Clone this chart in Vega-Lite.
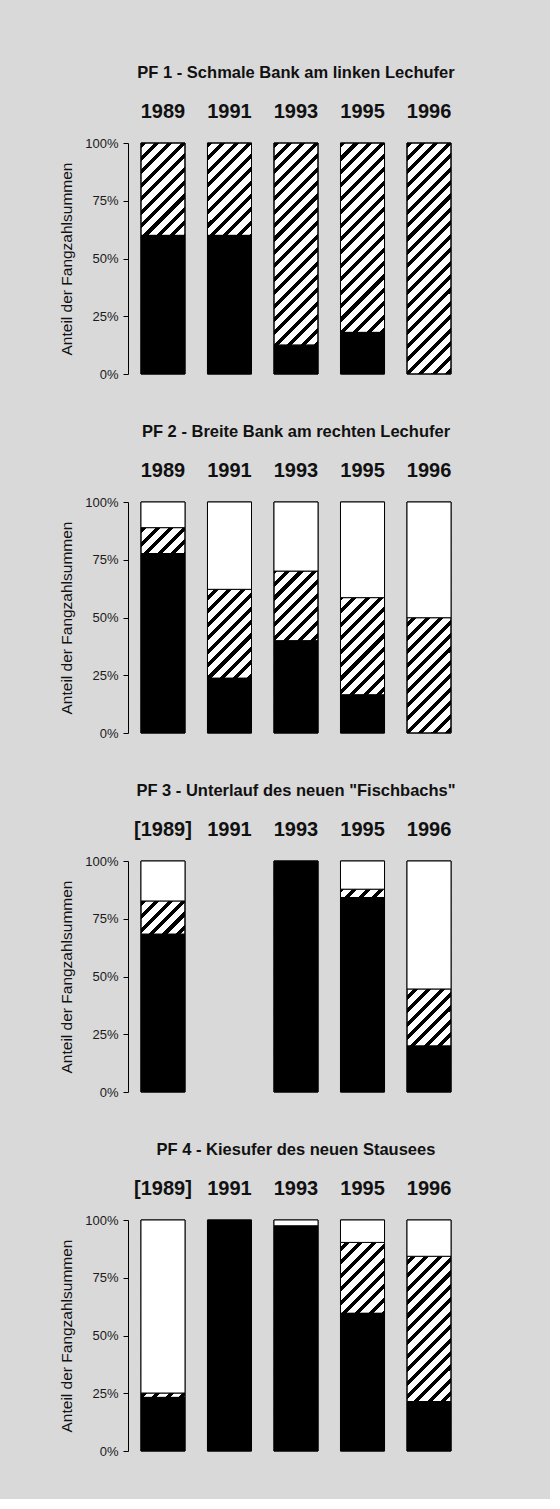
{
  "$schema": "https://vega.github.io/schema/vega-lite/v6.json",
  "background": "#d9d9d9",
  "padding": {"left": 59, "top": 64, "right": 86, "bottom": 41},
  "spacing": 42,
  "config": {
    "view": {"stroke": null},
    "font": "Liberation Sans",
    "bar": {
      "stroke": "black", "strokeWidth": 1,
      "fill": {"gradient": "linear", "x1": 0, "y1": 0, "x2": 0.2188, "y2": 1.1488, "stops": [
        {"offset": 0, "color": "black"}, {"offset": 0.0185, "color": "black"}, {"offset": 0.0185, "color": "white"}, {"offset": 0.0488, "color": "white"},
        {"offset": 0.0488, "color": "black"}, {"offset": 0.0673, "color": "black"}, {"offset": 0.0673, "color": "white"}, {"offset": 0.0976, "color": "white"},
        {"offset": 0.0976, "color": "black"}, {"offset": 0.1161, "color": "black"}, {"offset": 0.1161, "color": "white"}, {"offset": 0.1464, "color": "white"},
        {"offset": 0.1464, "color": "black"}, {"offset": 0.1649, "color": "black"}, {"offset": 0.1649, "color": "white"}, {"offset": 0.1952, "color": "white"},
        {"offset": 0.1952, "color": "black"}, {"offset": 0.2137, "color": "black"}, {"offset": 0.2137, "color": "white"}, {"offset": 0.2440, "color": "white"},
        {"offset": 0.2440, "color": "black"}, {"offset": 0.2625, "color": "black"}, {"offset": 0.2625, "color": "white"}, {"offset": 0.2928, "color": "white"},
        {"offset": 0.2928, "color": "black"}, {"offset": 0.3113, "color": "black"}, {"offset": 0.3113, "color": "white"}, {"offset": 0.3416, "color": "white"},
        {"offset": 0.3416, "color": "black"}, {"offset": 0.3601, "color": "black"}, {"offset": 0.3601, "color": "white"}, {"offset": 0.3904, "color": "white"},
        {"offset": 0.3904, "color": "black"}, {"offset": 0.4089, "color": "black"}, {"offset": 0.4089, "color": "white"}, {"offset": 0.4392, "color": "white"},
        {"offset": 0.4392, "color": "black"}, {"offset": 0.4577, "color": "black"}, {"offset": 0.4577, "color": "white"}, {"offset": 0.4880, "color": "white"},
        {"offset": 0.4880, "color": "black"}, {"offset": 0.5065, "color": "black"}, {"offset": 0.5065, "color": "white"}, {"offset": 0.5368, "color": "white"},
        {"offset": 0.5368, "color": "black"}, {"offset": 0.5553, "color": "black"}, {"offset": 0.5553, "color": "white"}, {"offset": 0.5856, "color": "white"},
        {"offset": 0.5856, "color": "black"}, {"offset": 0.6041, "color": "black"}, {"offset": 0.6041, "color": "white"}, {"offset": 0.6344, "color": "white"},
        {"offset": 0.6344, "color": "black"}, {"offset": 0.6529, "color": "black"}, {"offset": 0.6529, "color": "white"}, {"offset": 0.6832, "color": "white"},
        {"offset": 0.6832, "color": "black"}, {"offset": 0.7017, "color": "black"}, {"offset": 0.7017, "color": "white"}, {"offset": 0.7320, "color": "white"},
        {"offset": 0.7320, "color": "black"}, {"offset": 0.7505, "color": "black"}, {"offset": 0.7505, "color": "white"}, {"offset": 0.7808, "color": "white"},
        {"offset": 0.7808, "color": "black"}, {"offset": 0.7993, "color": "black"}, {"offset": 0.7993, "color": "white"}, {"offset": 0.8296, "color": "white"},
        {"offset": 0.8296, "color": "black"}, {"offset": 0.8481, "color": "black"}, {"offset": 0.8481, "color": "white"}, {"offset": 0.8784, "color": "white"},
        {"offset": 0.8784, "color": "black"}, {"offset": 0.8969, "color": "black"}, {"offset": 0.8969, "color": "white"}, {"offset": 0.9272, "color": "white"},
        {"offset": 0.9272, "color": "black"}, {"offset": 0.9457, "color": "black"}, {"offset": 0.9457, "color": "white"}, {"offset": 0.9760, "color": "white"},
        {"offset": 0.9760, "color": "black"}, {"offset": 0.9945, "color": "black"}, {"offset": 0.9945, "color": "white"}, {"offset": 1, "color": "white"}
      ]}
    },
    "axisY": {
      "domainColor": "black", "tickColor": "black", "tickSize": 5, "grid": false,
      "labelFontSize": 13, "labelColor": "#1a1a1a", "labelPadding": 5,
      "titleFontSize": 15.5, "titleFontWeight": "normal", "titleColor": "#111", "titlePadding": 10
    },
    "axisX": {
      "orient": "top", "domain": false, "ticks": false, "tickSize": 0, "labelAngle": 0,
      "labelFontSize": 20, "labelFontWeight": "bold", "labelColor": "#111", "labelPadding": 22, "title": null
    },
    "title": {"fontSize": 16.5, "fontWeight": "bold", "color": "#111", "anchor": "middle", "offset": 20}
  },
  "datasets": {
    "fang": [
      {"pf": "PF 1", "jahr": "1989", "gruppe": "Gruppe 1", "anteil": 60},
      {"pf": "PF 1", "jahr": "1989", "gruppe": "Gruppe 2", "anteil": 40},
      {"pf": "PF 1", "jahr": "1991", "gruppe": "Gruppe 1", "anteil": 60},
      {"pf": "PF 1", "jahr": "1991", "gruppe": "Gruppe 2", "anteil": 40},
      {"pf": "PF 1", "jahr": "1993", "gruppe": "Gruppe 1", "anteil": 12.5},
      {"pf": "PF 1", "jahr": "1993", "gruppe": "Gruppe 2", "anteil": 87.5},
      {"pf": "PF 1", "jahr": "1995", "gruppe": "Gruppe 1", "anteil": 18},
      {"pf": "PF 1", "jahr": "1995", "gruppe": "Gruppe 2", "anteil": 82},
      {"pf": "PF 1", "jahr": "1996", "gruppe": "Gruppe 2", "anteil": 100},

      {"pf": "PF 2", "jahr": "1989", "gruppe": "Gruppe 1", "anteil": 77.7},
      {"pf": "PF 2", "jahr": "1989", "gruppe": "Gruppe 2", "anteil": 11.2},
      {"pf": "PF 2", "jahr": "1989", "gruppe": "Gruppe 3", "anteil": 11.1},
      {"pf": "PF 2", "jahr": "1991", "gruppe": "Gruppe 1", "anteil": 23.7},
      {"pf": "PF 2", "jahr": "1991", "gruppe": "Gruppe 2", "anteil": 38.5},
      {"pf": "PF 2", "jahr": "1991", "gruppe": "Gruppe 3", "anteil": 37.8},
      {"pf": "PF 2", "jahr": "1993", "gruppe": "Gruppe 1", "anteil": 39.9},
      {"pf": "PF 2", "jahr": "1993", "gruppe": "Gruppe 2", "anteil": 30.2},
      {"pf": "PF 2", "jahr": "1993", "gruppe": "Gruppe 3", "anteil": 29.9},
      {"pf": "PF 2", "jahr": "1995", "gruppe": "Gruppe 1", "anteil": 16.5},
      {"pf": "PF 2", "jahr": "1995", "gruppe": "Gruppe 2", "anteil": 42.1},
      {"pf": "PF 2", "jahr": "1995", "gruppe": "Gruppe 3", "anteil": 41.4},
      {"pf": "PF 2", "jahr": "1996", "gruppe": "Gruppe 2", "anteil": 49.9},
      {"pf": "PF 2", "jahr": "1996", "gruppe": "Gruppe 3", "anteil": 50.1},

      {"pf": "PF 3", "jahr": "1989", "gruppe": "Gruppe 1", "anteil": 68.3},
      {"pf": "PF 3", "jahr": "1989", "gruppe": "Gruppe 2", "anteil": 14.4},
      {"pf": "PF 3", "jahr": "1989", "gruppe": "Gruppe 3", "anteil": 17.3},
      {"pf": "PF 3", "jahr": "1993", "gruppe": "Gruppe 1", "anteil": 100},
      {"pf": "PF 3", "jahr": "1995", "gruppe": "Gruppe 1", "anteil": 84.2},
      {"pf": "PF 3", "jahr": "1995", "gruppe": "Gruppe 2", "anteil": 3.6},
      {"pf": "PF 3", "jahr": "1995", "gruppe": "Gruppe 3", "anteil": 12.2},
      {"pf": "PF 3", "jahr": "1996", "gruppe": "Gruppe 1", "anteil": 19.9},
      {"pf": "PF 3", "jahr": "1996", "gruppe": "Gruppe 2", "anteil": 24.7},
      {"pf": "PF 3", "jahr": "1996", "gruppe": "Gruppe 3", "anteil": 55.4},

      {"pf": "PF 4", "jahr": "1989", "gruppe": "Gruppe 1", "anteil": 23.2},
      {"pf": "PF 4", "jahr": "1989", "gruppe": "Gruppe 2", "anteil": 1.9},
      {"pf": "PF 4", "jahr": "1989", "gruppe": "Gruppe 3", "anteil": 74.9},
      {"pf": "PF 4", "jahr": "1991", "gruppe": "Gruppe 1", "anteil": 100},
      {"pf": "PF 4", "jahr": "1993", "gruppe": "Gruppe 1", "anteil": 97.5},
      {"pf": "PF 4", "jahr": "1993", "gruppe": "Gruppe 3", "anteil": 2.5},
      {"pf": "PF 4", "jahr": "1995", "gruppe": "Gruppe 1", "anteil": 59.6},
      {"pf": "PF 4", "jahr": "1995", "gruppe": "Gruppe 2", "anteil": 30.7},
      {"pf": "PF 4", "jahr": "1995", "gruppe": "Gruppe 3", "anteil": 9.7},
      {"pf": "PF 4", "jahr": "1996", "gruppe": "Gruppe 1", "anteil": 21.4},
      {"pf": "PF 4", "jahr": "1996", "gruppe": "Gruppe 2", "anteil": 62.9},
      {"pf": "PF 4", "jahr": "1996", "gruppe": "Gruppe 3", "anteil": 15.7}
    ]
  },
  "vconcat": [
    {
      "title": "PF 1 - Schmale Bank am linken Lechufer",
      "width": 336, "height": 231,
      "data": {"name": "fang"},
      "transform": [{"filter": "datum.pf == 'PF 1'"}],
      "encoding": {
        "x": {"field": "jahr", "type": "nominal", "scale": {"domain": ["1989", "1991", "1993", "1995", "1996"], "paddingInner": 0.338, "paddingOuter": 0.195}}
      },
      "layer": [
        {
          "mark": {"type": "bar"},
          "encoding": {"y": {"aggregate": "sum", "field": "anteil", "type": "quantitative", "title": "Anteil der Fangzahlsummen", "scale": {"domain": [0, 100]}, "axis": {"values": [0, 25, 50, 75, 100], "labelExpr": "datum.value + '%'"}}}
        },
        {
          "mark": {"type": "bar"},
          "encoding": {
            "y": {"field": "anteil", "type": "quantitative", "stack": "zero", "title": "Anteil der Fangzahlsummen", "axis": {"values": [0, 25, 50, 75, 100], "labelExpr": "datum.value + '%'"}},
            "order": {"field": "gruppe", "sort": "ascending"},
            "fill": {"field": "gruppe", "type": "nominal", "legend": null, "scale": {"domain": ["Gruppe 1", "Gruppe 2", "Gruppe 3"], "range": ["black", "transparent", "white"]}}
          }
        }
      ]
    },
    {
      "title": "PF 2 - Breite Bank am rechten Lechufer",
      "width": 336, "height": 231,
      "data": {"name": "fang"},
      "transform": [{"filter": "datum.pf == 'PF 2'"}],
      "encoding": {
        "x": {"field": "jahr", "type": "nominal", "scale": {"domain": ["1989", "1991", "1993", "1995", "1996"], "paddingInner": 0.338, "paddingOuter": 0.195}}
      },
      "layer": [
        {
          "mark": {"type": "bar"},
          "encoding": {"y": {"aggregate": "sum", "field": "anteil", "type": "quantitative", "title": "Anteil der Fangzahlsummen", "scale": {"domain": [0, 100]}, "axis": {"values": [0, 25, 50, 75, 100], "labelExpr": "datum.value + '%'"}}}
        },
        {
          "mark": {"type": "bar"},
          "encoding": {
            "y": {"field": "anteil", "type": "quantitative", "stack": "zero", "title": "Anteil der Fangzahlsummen", "axis": {"values": [0, 25, 50, 75, 100], "labelExpr": "datum.value + '%'"}},
            "order": {"field": "gruppe", "sort": "ascending"},
            "fill": {"field": "gruppe", "type": "nominal", "legend": null, "scale": {"domain": ["Gruppe 1", "Gruppe 2", "Gruppe 3"], "range": ["black", "transparent", "white"]}}
          }
        }
      ]
    },
    {
      "title": "PF 3 - Unterlauf des neuen \"Fischbachs\"",
      "width": 336, "height": 231,
      "data": {"name": "fang"},
      "transform": [{"filter": "datum.pf == 'PF 3'"}],
      "encoding": {
        "x": {"field": "jahr", "type": "nominal", "scale": {"domain": ["1989", "1991", "1993", "1995", "1996"], "paddingInner": 0.338, "paddingOuter": 0.195}, "axis": {"labelExpr": "datum.value == '1989' ? '[1989]' : datum.value"}}
      },
      "layer": [
        {
          "mark": {"type": "bar"},
          "encoding": {"y": {"aggregate": "sum", "field": "anteil", "type": "quantitative", "title": "Anteil der Fangzahlsummen", "scale": {"domain": [0, 100]}, "axis": {"values": [0, 25, 50, 75, 100], "labelExpr": "datum.value + '%'"}}}
        },
        {
          "mark": {"type": "bar"},
          "encoding": {
            "y": {"field": "anteil", "type": "quantitative", "stack": "zero", "title": "Anteil der Fangzahlsummen", "axis": {"values": [0, 25, 50, 75, 100], "labelExpr": "datum.value + '%'"}},
            "order": {"field": "gruppe", "sort": "ascending"},
            "fill": {"field": "gruppe", "type": "nominal", "legend": null, "scale": {"domain": ["Gruppe 1", "Gruppe 2", "Gruppe 3"], "range": ["black", "transparent", "white"]}}
          }
        }
      ]
    },
    {
      "title": "PF 4 - Kiesufer des neuen Stausees",
      "width": 336, "height": 231,
      "data": {"name": "fang"},
      "transform": [{"filter": "datum.pf == 'PF 4'"}],
      "encoding": {
        "x": {"field": "jahr", "type": "nominal", "scale": {"domain": ["1989", "1991", "1993", "1995", "1996"], "paddingInner": 0.338, "paddingOuter": 0.195}, "axis": {"labelExpr": "datum.value == '1989' ? '[1989]' : datum.value"}}
      },
      "layer": [
        {
          "mark": {"type": "bar"},
          "encoding": {"y": {"aggregate": "sum", "field": "anteil", "type": "quantitative", "title": "Anteil der Fangzahlsummen", "scale": {"domain": [0, 100]}, "axis": {"values": [0, 25, 50, 75, 100], "labelExpr": "datum.value + '%'"}}}
        },
        {
          "mark": {"type": "bar"},
          "encoding": {
            "y": {"field": "anteil", "type": "quantitative", "stack": "zero", "title": "Anteil der Fangzahlsummen", "axis": {"values": [0, 25, 50, 75, 100], "labelExpr": "datum.value + '%'"}},
            "order": {"field": "gruppe", "sort": "ascending"},
            "fill": {"field": "gruppe", "type": "nominal", "legend": null, "scale": {"domain": ["Gruppe 1", "Gruppe 2", "Gruppe 3"], "range": ["black", "transparent", "white"]}}
          }
        }
      ]
    }
  ]
}
